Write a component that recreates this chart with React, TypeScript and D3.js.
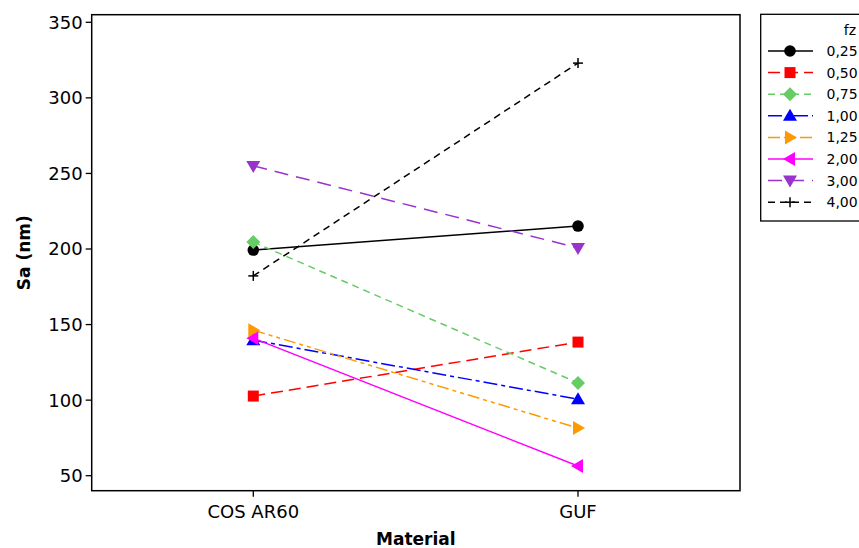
import React from "react";
import * as d3 from "d3";

const materials = ["COS AR60", "GUF"];
const fzLevels = ["0,25", "0,50", "0,75", "1,00", "1,25", "2,00", "3,00", "4,00"];
const sa025 = [199.3, 215.2];
const sa050 = [102.7, 138.4];
const sa075 = [204.6, 111.4];
const sa100 = [139.7, 100.6];
const sa125 = [146.3, 81.5];
const sa200 = [141.0, 56.4];
const sa300 = [255.0, 200.7];
const sa400 = [182.2, 323.0];
const yTicks = [50, 100, 150, 200, 250, 300, 350];

const seriesValues = [sa025, sa050, sa075, sa100, sa125, sa200, sa300, sa400];
const colors = ["#000000", "#ff0000", "#66cc66", "#0000ff", "#ff9900", "#ff00ff", "#9933cc", "#000000"];
const dashes = ["none", "12 6", "7 5", "14 4 4 4", "12 4 4 4 4 4", "none", "14 8", "7 5"];
const symbols = ["circle", "square", "diamond", "triUp", "triRight", "triLeft", "triDown", "plus"];

const FONT = "'DejaVu Sans', Verdana, sans-serif";

function Marker({ kind, x, y, color }: { kind: string; x: number; y: number; color: string }) {
  const s = 6;
  switch (kind) {
    case "circle":
      return <circle cx={x} cy={y} r={5.8} fill={color} />;
    case "square":
      return <rect x={x - 5.5} y={y - 5.5} width={11} height={11} fill={color} />;
    case "diamond":
      return <polygon points={`${x},${y - 7} ${x + 7},${y} ${x},${y + 7} ${x - 7},${y}`} fill={color} />;
    case "triUp":
      return <polygon points={`${x},${y - s - 1} ${x + s + 1},${y + s - 1} ${x - s - 1},${y + s - 1}`} fill={color} />;
    case "triDown":
      return <polygon points={`${x},${y + s + 1} ${x + s + 1},${y - s + 1} ${x - s - 1},${y - s + 1}`} fill={color} />;
    case "triRight":
      return <polygon points={`${x + s + 1},${y} ${x - s + 1},${y - s - 1} ${x - s + 1},${y + s + 1}`} fill={color} />;
    case "triLeft":
      return <polygon points={`${x - s - 1},${y} ${x + s - 1},${y - s - 1} ${x + s - 1},${y + s + 1}`} fill={color} />;
    case "plus":
      return (
        <g stroke={color} strokeWidth={1.5}>
          <line x1={x - 5} y1={y} x2={x + 5} y2={y} />
          <line x1={x} y1={y - 5} x2={x} y2={y + 5} />
        </g>
      );
    default:
      return null;
  }
}

export default function App() {
  const W = 859;
  const H = 548;
  const left = 91.7;
  const right = 740;
  const top = 14.7;
  const bottom = 490.7;

  const y = d3.scaleLinear().domain([50, 350]).range([475.7, 22.3]);
  const x = d3.scalePoint<string>().domain(materials).range([253.3, 578]);
  const line = d3
    .line<number>()
    .x((_, i) => x(materials[i]) as number)
    .y((d) => y(d));

  const legX = 760.7;
  const legTop = 14.3;
  const legRow0 = 51;
  const legStep = 21.6;

  return (
    <svg width={W} height={H} style={{ position: "absolute", left: 0, top: 0 }} fontFamily={FONT}>
      <rect width={W} height={H} fill="#ffffff" />
      <rect x={left} y={top} width={right - left} height={bottom - top} fill="none" stroke="#000" strokeWidth={1.5} />
      {yTicks.map((t) => (
        <g key={t}>
          <line x1={left - 6} x2={left} y1={y(t)} y2={y(t)} stroke="#000" strokeWidth={1.3} />
          <text x={left - 9} y={y(t)} dy="0.36em" textAnchor="end" fontSize={18} fill="#000">
            {t}
          </text>
        </g>
      ))}
      {materials.map((m) => (
        <g key={m}>
          <line x1={x(m)} x2={x(m)} y1={bottom} y2={bottom + 6} stroke="#000" strokeWidth={1.3} />
          <text x={x(m)} y={bottom + 27} textAnchor="middle" fontSize={18} fill="#000">
            {m}
          </text>
        </g>
      ))}
      <text x={(left + right) / 2} y={545} textAnchor="middle" fontSize={17} fontWeight="bold" fill="#000">
        Material
      </text>
      <text
        transform={`translate(30,${(top + bottom) / 2}) rotate(-90)`}
        textAnchor="middle"
        fontSize={17}
        fontWeight="bold"
        fill="#000"
      >
        Sa (nm)
      </text>
      {seriesValues.map((vals, si) => (
        <g key={si}>
          <path
            d={line(vals) || ""}
            fill="none"
            stroke={colors[si]}
            strokeWidth={1.5}
            strokeDasharray={dashes[si]}
          />
          {vals.map((v, i) => (
            <Marker key={i} kind={symbols[si]} x={x(materials[i]) as number} y={y(v)} color={colors[si]} />
          ))}
        </g>
      ))}
      <rect x={legX} y={legTop} width={120} height={221 - legTop} fill="#fff" stroke="#000" strokeWidth={1.3} />
      <text x={856} y={35} textAnchor="end" fontSize={14} fill="#000">
        fz
      </text>
      {fzLevels.map((lab, si) => {
        const ry = legRow0 + si * legStep;
        return (
          <g key={lab}>
            <line
              x1={768}
              x2={813}
              y1={ry}
              y2={ry}
              stroke={colors[si]}
              strokeWidth={1.5}
              strokeDasharray={dashes[si]}
            />
            <Marker kind={symbols[si]} x={790} y={ry} color={colors[si]} />
            <text x={826.5} y={ry} dy="0.36em" fontSize={14} fill="#000">
              {lab}
            </text>
          </g>
        );
      })}
    </svg>
  );
}
